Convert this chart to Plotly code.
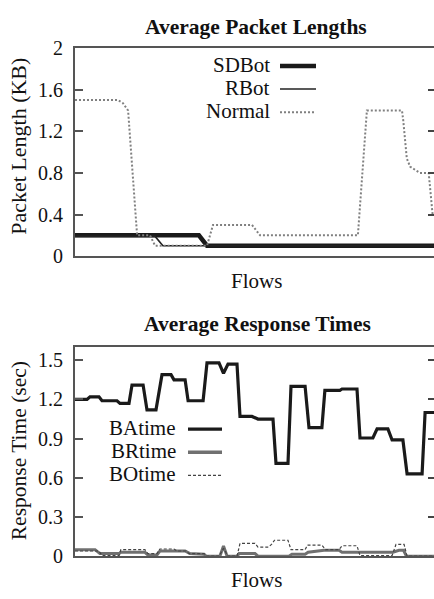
import plotly.graph_objects as go

# ---------------- Average Packet Lengths (KB) ----------------
sd_flow = [0, 41.3, 44, 119.7]
sd_len = [0.2, 0.2, 0.1, 0.1]

rb_flow = [0, 26.7, 29.3, 119.7]
rb_len = [0.19, 0.19, 0.1, 0.1]

nm_flow = [0, 14.3, 16, 17.7, 20.7, 25, 26.7, 44, 46, 59, 61.7, 94.3, 97.3,
           109, 109.4, 110.6, 111.7, 115, 117.9, 119.2, 119.7]
nm_len = [1.5, 1.5, 1.47, 1.4, 0.2, 0.2, 0.1, 0.1, 0.3, 0.3, 0.2, 0.2, 1.4,
          1.4, 1.31, 0.94, 0.86, 0.8, 0.8, 0.4, 0.4]

# ---------------- Average Response Times (sec) ----------------
ba_flow = [0, 4, 5, 8, 9, 14, 15, 18, 19, 22.7, 24, 27, 29, 32, 33, 36.7,
           37.7, 42.7, 44, 48, 49.5, 51, 54, 55, 59, 61, 66, 67, 71, 72, 76.7,
           78, 82.3, 83.3, 88.3, 89, 94, 95, 99.3, 100.7, 104.3, 105.7, 109.3,
           110.7, 115.7, 116.7, 119.7]
ba_time = [1.2, 1.2, 1.22, 1.22, 1.19, 1.19, 1.17, 1.17, 1.31, 1.31, 1.12,
           1.12, 1.39, 1.39, 1.35, 1.35, 1.19, 1.19, 1.48, 1.48, 1.4, 1.47,
           1.47, 1.07, 1.07, 1.05, 1.05, 0.71, 0.71, 1.3, 1.3, 0.985, 0.985,
           1.27, 1.27, 1.28, 1.28, 0.905, 0.905, 0.975, 0.975, 0.89, 0.89,
           0.63, 0.63, 1.1, 1.1]

br_flow = [0, 6.7, 8.3, 14.7, 15.3, 23.3, 24.3, 27.3, 28.3, 36.7, 38.3, 43,
           43.7, 48.3, 49.5, 50.7, 54, 54.7, 60, 61, 71.3, 72.3, 76.7, 77.7,
           83, 88, 89, 106, 108, 109.5, 110.5, 119.7]
br_time = [0.05, 0.05, 0.02, 0.02, 0.03, 0.03, 0.01, 0.01, 0.04, 0.04, 0.02,
           0.015, 0.0, 0.0, 0.078, 0.0, 0.0, 0.02, 0.02, 0.0, 0.0, 0.015,
           0.015, 0.03, 0.045, 0.045, 0.03, 0.03, 0.045, 0.045, 0.0, 0.0]

bo_flow = [0, 8, 9, 14.7, 15.3, 23.3, 24.3, 27.3, 28.3, 33, 34, 37, 38, 43,
           44, 48, 49.5, 51, 54, 55, 60, 61, 64.5, 65.5, 66.5, 71, 72, 76.7,
           77.5, 82.3, 83.5, 88, 89, 94, 95, 105.7, 107, 109.7, 110.7, 119.7]
bo_time = [0.04, 0.04, 0.005, 0.005, 0.05, 0.05, 0.02, 0.02, 0.055, 0.055,
           0.04, 0.04, 0.02, 0.02, 0.0, 0.0, 0.06, 0.0, 0.0, 0.098, 0.098,
           0.07, 0.07, 0.09, 0.122, 0.122, 0.05, 0.05, 0.085, 0.085, 0.05,
           0.05, 0.08, 0.08, 0.005, 0.005, 0.09, 0.09, 0.0, 0.0]

len_ticks = [0, 0.4, 0.8, 1.2, 1.6, 2]
len_tick_text = ["0", "0.4", "0.8", "1.2", "1.6", "2"]
time_ticks = [0, 0.3, 0.6, 0.9, 1.2, 1.5]
time_tick_text = ["0", "0.3", "0.6", "0.9", "1.2", "1.5"]

W, H = 434, 599
SERIF = "Liberation Serif, DejaVu Serif, serif"
INK = "#111111"
FRAME = "#555555"
NORMAL_GREY = "#808080"
BR_GREY = "#707070"


def px(x):
    return x / W


def py(y):
    return 1 - y / H


fig = go.Figure()

# packet length series
fig.add_trace(go.Scatter(x=sd_flow, y=sd_len, mode="lines", name="SDBot",
                         line=dict(color="#1a1a1a", width=4.5), xaxis="x", yaxis="y"))
fig.add_trace(go.Scatter(x=rb_flow, y=rb_len, mode="lines", name="RBot",
                         line=dict(color="#222222", width=1.6), xaxis="x", yaxis="y"))
fig.add_trace(go.Scatter(x=nm_flow, y=nm_len, mode="lines", name="Normal",
                         line=dict(color=NORMAL_GREY, width=2, dash="2px,2px"),
                         xaxis="x", yaxis="y"))

# response time series
fig.add_trace(go.Scatter(x=ba_flow, y=ba_time, mode="lines", name="BAtime",
                         line=dict(color="#1a1a1a", width=3.2), xaxis="x2", yaxis="y2"))
fig.add_trace(go.Scatter(x=br_flow, y=br_time, mode="lines", name="BRtime",
                         line=dict(color=BR_GREY, width=3), xaxis="x2", yaxis="y2"))
fig.add_trace(go.Scatter(x=bo_flow, y=bo_time, mode="lines", name="BOtime",
                         line=dict(color="#444444", width=1.2, dash="3px,2px"),
                         xaxis="x2", yaxis="y2"))

top_dom = [py(254.5), py(38.5)]
bot_dom = [py(566), py(349)]
x_dom = [px(75), 1.0]
flow_range = [0, 119.67]

xaxis_common = dict(range=flow_range, domain=x_dom, showticklabels=False,
                    ticks="", showgrid=False, zeroline=False, showline=True,
                    linecolor=FRAME, linewidth=2, mirror=True)
yaxis_common = dict(showgrid=False, zeroline=False, showline=True,
                    linecolor=FRAME, linewidth=2, ticks="inside", ticklen=8,
                    tickwidth=1.5, tickcolor=FRAME, ticklabelstandoff=6,
                    tickfont=dict(family=SERIF, size=20, color=INK))
right_ticks = dict(showgrid=False, zeroline=False, showline=False,
                   ticks="inside", ticklen=6, tickwidth=1.5, tickcolor="#444444",
                   showticklabels=False, side="right")

fig.update_layout(
    width=W, height=H,
    margin=dict(l=0, r=0, t=0, b=0),
    paper_bgcolor="white", plot_bgcolor="white",
    showlegend=False,
    xaxis=dict(anchor="y", **xaxis_common),
    yaxis=dict(domain=top_dom, anchor="x", range=[0, 2], tickvals=len_ticks,
               ticktext=len_tick_text, **yaxis_common),
    yaxis3=dict(overlaying="y", anchor="x", range=[0, 2], tickvals=len_ticks,
                **right_ticks),
    xaxis2=dict(anchor="y2", **xaxis_common),
    yaxis2=dict(domain=bot_dom, anchor="x2", range=[0, 1.6], tickvals=time_ticks,
                ticktext=time_tick_text, **yaxis_common),
    yaxis4=dict(overlaying="y2", anchor="x2", range=[0, 1.6], tickvals=time_ticks,
                **right_ticks),
)

# empty traces so the right-hand tick axes are drawn
fig.add_trace(go.Scatter(x=[], y=[], xaxis="x", yaxis="y3", showlegend=False))
fig.add_trace(go.Scatter(x=[], y=[], xaxis="x2", yaxis="y4", showlegend=False))

annotations = []


def label(text, x, y, size=21, bold=False, angle=0, xanchor="center"):
    annotations.append(dict(
        text=f"<b>{text}</b>" if bold else text,
        x=px(x), y=py(y), xref="paper", yref="paper",
        xanchor=xanchor, yanchor="middle", showarrow=False, textangle=angle,
        font=dict(family=SERIF, size=size, color=INK)))


label("Average Packet Lengths", 256, 17, size=21.5, bold=True)
label("Average Response Times", 257, 325, size=21.5, bold=True)
label("Flows", 256, 280)
label("Flows", 256, 591)
label("Packet Length (KB)", 19, 141, size=22)
annotations[-1]["textangle"] = -90
label("Response Time (sec)", 19, 457, size=21.5, angle=-90)

# legends: name on the left, line sample on the right
shapes = []
top_legend = [("SDBot", dict(color="#1a1a1a", width=4.5)),
              ("RBot", dict(color="#222222", width=1.6)),
              ("Normal", dict(color=NORMAL_GREY, width=2, dash="2px,2px"))]
for i, (name, style) in enumerate(top_legend):
    yy = 56 + 24 * i
    label(name, 272, yy, xanchor="right")
    shapes.append(dict(type="line", xref="paper", yref="paper",
                       x0=px(280), x1=px(316), y0=py(yy + 1), y1=py(yy + 1),
                       line=style))

bot_legend = [("BAtime", dict(color="#1a1a1a", width=3.2)),
              ("BRtime", dict(color=BR_GREY, width=3.5)),
              ("BOtime", dict(color="#444444", width=1.2, dash="3px,2px"))]
for i, (name, style) in enumerate(bot_legend):
    yy = 433 + 24 * i
    label(name, 178, yy, xanchor="right")
    shapes.append(dict(type="line", xref="paper", yref="paper",
                       x0=px(188), x1=px(222), y0=py(yy + 1), y1=py(yy + 1),
                       line=style))

fig.update_layout(annotations=annotations, shapes=shapes)

fig.write_html("out.html")
